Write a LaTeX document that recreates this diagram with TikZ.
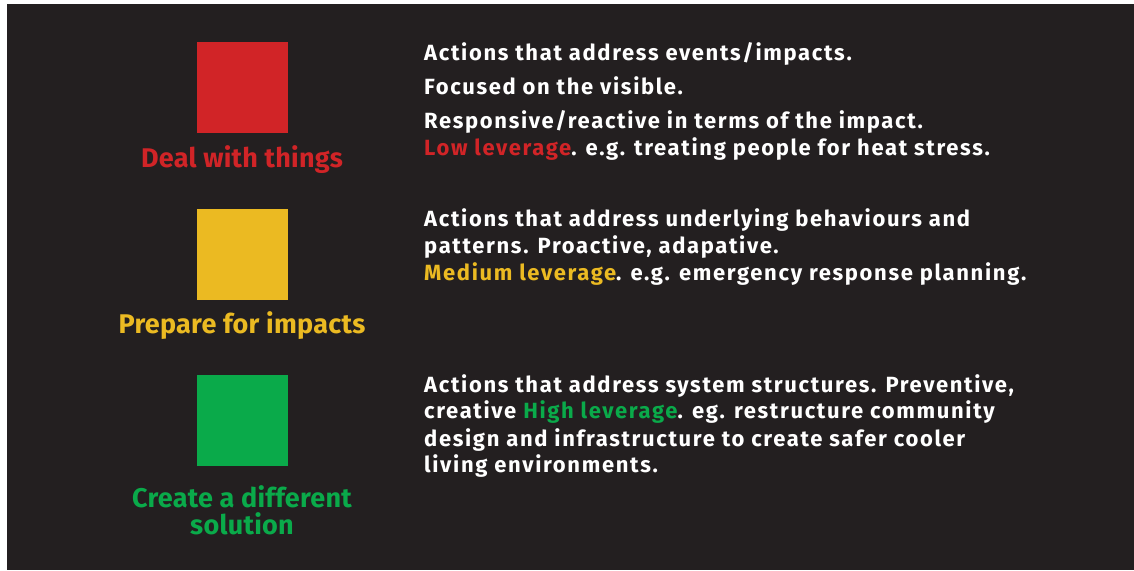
\documentclass[tikz,border=0pt]{standalone}
\usepackage{fontspec}
\setmainfont{Fira Sans}
\newfontfamily\txtfont[LetterSpace=7.5]{Fira Sans}
\newfontfamily\labfont[LetterSpace=1]{Fira Sans}
\definecolor{bgdark}{HTML}{231F20}
\definecolor{cred}{HTML}{D12427}
\definecolor{cyellow}{HTML}{EBBA22}
\definecolor{cgreen}{HTML}{0AAA4A}
\begin{document}
\begin{tikzpicture}[x=1pt,y=-1pt,
  sq/.style={draw=none,minimum width=91pt,minimum height=91pt,inner sep=0pt},
  lab/.style={anchor=base,inner sep=0pt,font=\labfont\fontsize{27}{27}\selectfont\bfseries},
  txt/.style={anchor=base west,inner sep=0pt,text=white,font=\txtfont\fontsize{22}{22}\selectfont\bfseries}]
\useasboundingbox (0,0) rectangle (1134,570);
\fill[white] (0,0) rectangle (1134,570);
\fill[bgdark] (7,4) rectangle (1134,570);
% squares
\node[sq,fill=cred] (s1) at (242.5,87.5) {};
\node[sq,fill=cyellow] (s2) at (242.5,254.5) {};
\node[sq,fill=cgreen] (s3) at (242.5,420.5) {};
% labels
\node[lab,text=cred] (l1) at (242,167) {Deal with things};
\node[lab,text=cyellow] (l2) at (242,333) {Prepare for impacts};
\node[lab,text=cgreen] (l3a) at (242,507) {Create a different};
\node[lab,text=cgreen] (l3b) at (242,534) {solution};
% block 1
\node[txt] (a1) at (424,60) {Actions that address events/impacts.};
\node[txt] (a2) at (424,94) {Focused on the visible.};
\node[txt] (a3) at (424,128) {Responsive/reactive in terms of the impact.};
\node[txt] (a4) at (424,155) {\textcolor{cred}{Low leverage}. e.g. treating people for heat stress.};
% block 2
\node[txt] (b1) at (424,226) {Actions that address underlying behaviours and};
\node[txt] (b2) at (424,253) {patterns. Proactive, adapative.};
\node[txt] (b3) at (424,280) {\textcolor{cyellow}{Medium leverage}. e.g. emergency response planning.};
% block 3
\node[txt] (c1) at (424,392) {Actions that address system structures. Preventive,};
\node[txt] (c2) at (424,418) {creative \textcolor{cgreen}{High leverage}. eg. restructure community};
\node[txt] (c3) at (424,446) {design and infrastructure to create safer cooler};
\node[txt] (c4) at (424,472) {living environments.};
\end{tikzpicture}
\end{document}
